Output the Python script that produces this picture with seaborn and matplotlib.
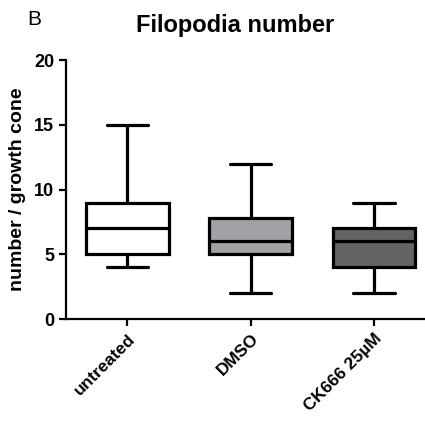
import pandas as pd
import matplotlib
matplotlib.use("Agg")
import matplotlib.pyplot as plt
import seaborn as sns

# five-number summaries (min, Q1, median, Q3, max)
groups = ['untreated', 'DMSO', 'CK666 25\u00b5M']
untreated = [4, 5, 7, 9, 15]
dmso = [2, 5, 6, 7.8, 12]
ck666 = [2, 4, 6, 7, 9]
colors = ['#ffffff', '#a2a2a6', '#636363']

df = pd.DataFrame({
    'group': [groups[0]] * len(untreated) + [groups[1]] * len(dmso) + [groups[2]] * len(ck666),
    'value': untreated + dmso + ck666,
})

sns.set_style('ticks')
plt.rcParams['font.family'] = ['Liberation Sans', 'DejaVu Sans']
plt.rcParams['text.color'] = 'black'
plt.rcParams['axes.labelcolor'] = 'black'
plt.rcParams['xtick.color'] = 'black'
plt.rcParams['ytick.color'] = 'black'
plt.rcParams['axes.edgecolor'] = 'black'

fig = plt.figure(figsize=(4.25, 4.29), dpi=100)
ax = fig.add_axes([0.155, 0.256, 0.87, 0.604])

sns.boxplot(data=df, x='group', y='value', hue='group', palette=colors,
            whis=(0, 100), width=0.67, linewidth=2.3, linecolor='black',
            saturation=1, legend=False, ax=ax)

ax.set_xlim(-0.5, 2.5)
ax.set_ylim(0, 20)
ax.set_yticks([0, 5, 10, 15, 20])
ax.spines['top'].set_visible(False)
ax.spines['right'].set_visible(False)
ax.spines['left'].set_linewidth(1.6)
ax.spines['bottom'].set_linewidth(1.6)
ax.tick_params(axis='both', direction='out', length=5, width=1.6, color='black',
               labelcolor='black')
for lab in ax.get_yticklabels():
    lab.set_fontweight('bold')
    lab.set_fontsize(13)
ax.set_xticks(range(3))
ax.set_xticklabels(groups, rotation=45, ha='right', rotation_mode='anchor',
                   fontsize=12.5, fontweight='bold')
ax.set_xlabel('')
ax.set_ylabel('number / growth cone', fontsize=14, fontweight='bold', labelpad=6)

fig.text(0.553, 0.94, 'Filopodia number', ha='center', va='center',
         fontsize=17, fontweight='bold')
fig.text(0.065, 0.955, 'B', ha='left', va='center', fontsize=15)

fig.savefig('out.png', dpi=100)
